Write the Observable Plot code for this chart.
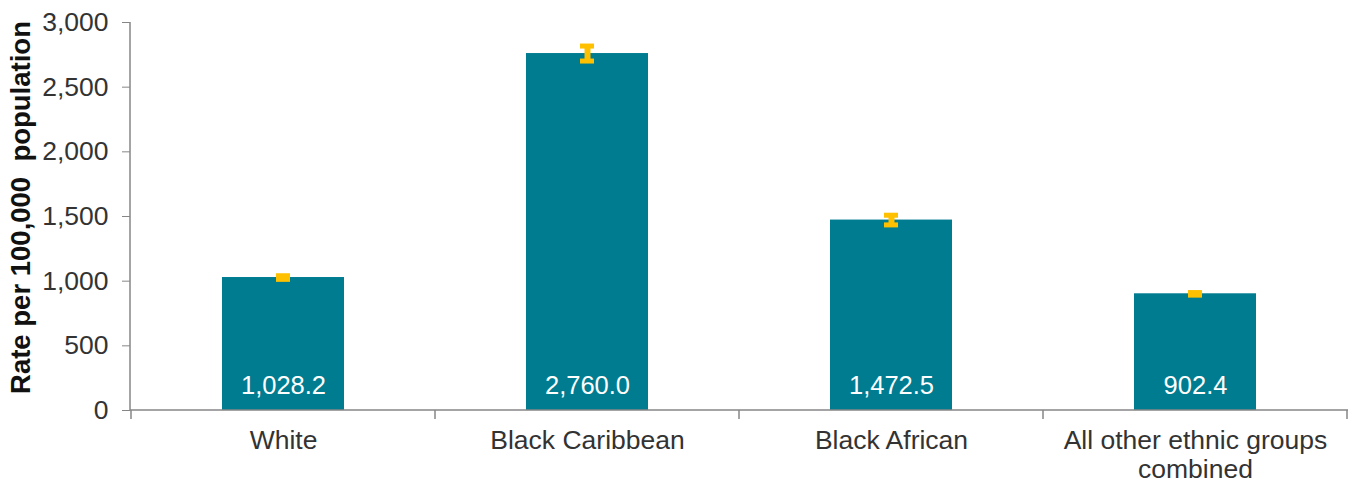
<!DOCTYPE html>
<html>
<head>
<meta charset="utf-8">
<script src="https://cdn.jsdelivr.net/npm/d3@7"></script>
<script src="https://cdn.jsdelivr.net/npm/@observablehq/plot@0.6"></script>
<style>
  html, body { margin: 0; padding: 0; background: #fff; }
  #chart svg { font-family: "Liberation Sans", Arial, sans-serif; }
  g[aria-label="y-axis tick"] { stroke: #868686; }
  g[aria-label="y-axis"] .tick line { stroke: #868686; }
</style>
</head>
<body>
<div id="chart"></div>
<script>
const categories = ["White", "Black Caribbean", "Black African", "All other ethnic groups combined"];
const xLabels = ["White", "Black Caribbean", "Black African", "All other ethnic groups\ncombined"];
const rates = [1028.2, 2760.0, 1472.5, 902.4];
const lower = [1014, 2702, 1435, 892];
const upper = [1042, 2818, 1510, 912];
const yTicks = [0, 500, 1000, 1500, 2000, 2500, 3000];
const yTitle = "Rate per 100,000  population";

const data = categories.map((c, i) => ({
  cat: c, label: xLabels[i], rate: rates[i], lo: lower[i], hi: upper[i]
}));

const W = 1355, H = 486;
const fmt1 = d3.format(",.1f");

function axisDecor(index, scales, values, dimensions) {
  const {width, height, marginLeft, marginRight, marginTop, marginBottom} = dimensions;
  const x = scales.x, y = scales.y;
  const bw = x.bandwidth();
  const step = x.step();
  const g = d3.create("svg:g").attr("stroke", "#868686").attr("stroke-width", 1.5).attr("fill", "none");
  const y0 = y(0);
  g.append("line").attr("x1", marginLeft).attr("x2", marginLeft)
    .attr("y1", marginTop).attr("y2", y0);
  g.append("line").attr("x1", marginLeft).attr("x2", width - marginRight)
    .attr("y1", y0).attr("y2", y0);
  const bounds = categories.map(c => x(c) - (step - bw) / 2);
  bounds.push(x(categories[categories.length - 1]) + bw + (step - bw) / 2);
  for (const b of bounds) {
    g.append("line").attr("x1", b).attr("x2", b).attr("y1", y0).attr("y2", y0 + 9);
  }
  return g.node();
}

const chart = Plot.plot({
  width: W,
  height: H,
  marginTop: 22,
  marginBottom: 76,
  marginLeft: 130,
  marginRight: 7,
  style: { fontFamily: "Liberation Sans, Arial, sans-serif", fontSize: "26.5px", color: "#333", background: "#fff" },
  x: { domain: categories, paddingInner: 0.6, paddingOuter: 0.3, axis: null },
  y: { domain: [0, 3000], ticks: yTicks, tickFormat: d3.format(","), tickSize: 8, tickPadding: 14, label: null },
  marks: [
    Plot.barY(data, { x: "cat", y: "rate", fill: "#007C91" }),
    Plot.ruleX(data, { x: "cat", y1: "lo", y2: "hi", stroke: "#FFC000", strokeWidth: 6 }),
    Plot.tickY(data, { x: "cat", y: "lo", stroke: "#FFC000", strokeWidth: 5, insetLeft: 54, insetRight: 54 }),
    Plot.tickY(data, { x: "cat", y: "hi", stroke: "#FFC000", strokeWidth: 5, insetLeft: 54, insetRight: 54 }),
    Plot.text(data, { x: "cat", y: 0, text: d => fmt1(d.rate), dy: -25, fill: "white", fontSize: 25.5 }),
    Plot.text(data, { x: "cat", y: 0, text: "label", dy: 17, lineAnchor: "top", lineHeight: 1.12, fill: "#333", fontSize: 26.5 }),
    Plot.text([yTitle], { frameAnchor: "left", textAnchor: "middle", text: d => d, rotate: -90, dx: -109, dy: -9, fontWeight: "bold", fontSize: 27.5, fill: "#111" }),
    axisDecor
  ]
});

document.getElementById("chart").appendChild(chart);
</script>
</body>
</html>
